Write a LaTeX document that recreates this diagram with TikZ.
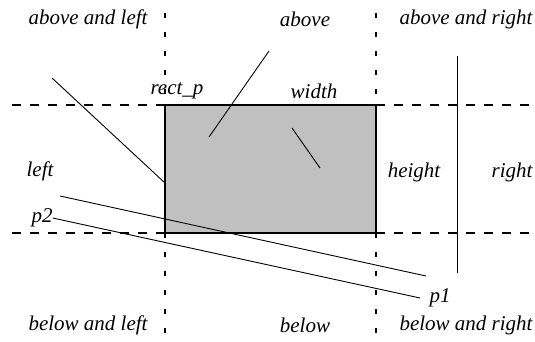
\documentclass[tikz,border=0pt]{standalone}
\usepackage{fontspec}
\setmainfont{Liberation Serif}
\usetikzlibrary{positioning}
\definecolor{boxgray}{RGB}{192,192,192}
\begin{document}
\begin{tikzpicture}[x=1pt,y=-1pt,
    lbl/.style={font=\itshape\fontsize{21}{24}\selectfont, inner sep=0pt},
    hgrid/.style={line width=1.2pt, dash pattern=on 9pt off 9pt},
    vgrid/.style={line width=1.2pt, dash pattern=on 5pt off 14pt},
    seg/.style={line width=0.9pt}]
    \useasboundingbox (0,0) rectangle (535,342);
    \coordinate (tl) at (165,105);
    \coordinate (br) at (376,233);
    \coordinate (a1) at (52,78);
    \coordinate (a2) at (165,183);
    \coordinate (b1) at (269,51);
    \coordinate (b2) at (209,137);
    \coordinate (c1) at (292,128);
    \coordinate (c2) at (320,168);
    \coordinate (d1) at (457,56);
    \coordinate (d2) at (457,273);
    \coordinate (e1) at (60,196);
    \coordinate (e2) at (426,276);
    \coordinate (f2) at (420,298);
    %Shade
    \filldraw[fill=boxgray, draw=black, line width=2pt] (tl) rectangle (br);
    %Grid
    \draw[hgrid] (12,105) -- (165,105) (376,105) -- (535,105);
    \draw[hgrid] (12,233) -- (165,233) (376,233) -- (535,233);
    \draw[vgrid] (165,13) -- (165,105) (165,233) -- (165,335);
    \draw[vgrid] (376,13) -- (376,105) (376,233) -- (376,335);
    %Labels
    \node[lbl] (al) at (88,19) {above and left};
    \node[lbl] (ab) at (305,19) {above};
    \node[lbl] (ar) at (466,19) {above and right};
    \node[lbl] (rp) at (177,91) {rect\_p};
    \node[lbl] (wd) at (314,91) {width};
    \node[lbl] (lf) at (40,171) {left};
    \node[lbl] (ht) at (414,172) {height};
    \node[lbl] (rt) at (512,172) {right};
    \node[lbl] (p2) at (42,218) {p2};
    \node[lbl] (p1) at (440,298) {p1};
    \node[lbl] (bl) at (88,325) {below and left};
    \node[lbl] (bw) at (305,325) {below};
    \node[lbl] (brt) at (466,325) {below and right};
    %Segments
    \draw[seg] (a1) -- (a2);
    \draw[seg] (b1) -- (b2);
    \draw[seg] (c1) -- (c2);
    \draw[seg] (d1) -- (d2);
    \draw[seg] (e1) -- (e2);
    \draw[seg] (p2.east) -- (f2);
\end{tikzpicture}
\end{document}
